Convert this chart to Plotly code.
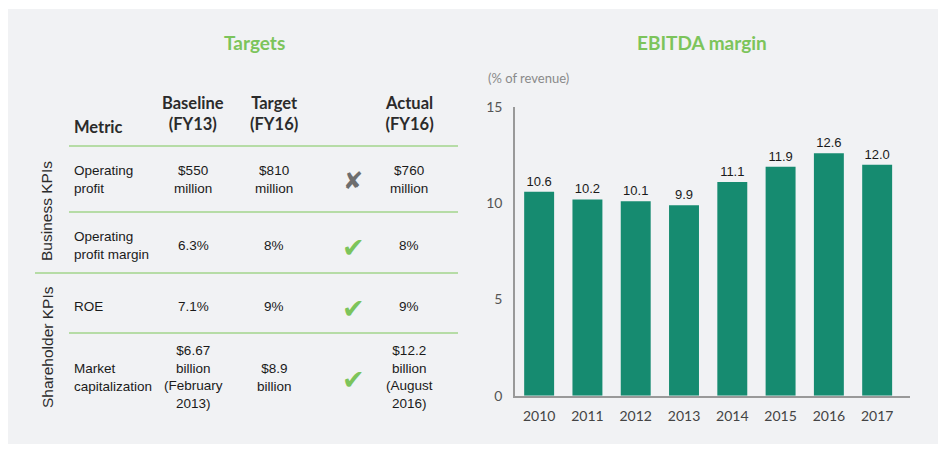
import plotly.graph_objects as go

W, H = 943, 454

# ---- data ----
years = ["2010", "2011", "2012", "2013", "2014", "2015", "2016", "2017"]
ebitda_margin = [10.6, 10.2, 10.1, 9.9, 11.1, 11.9, 12.6, 12.0]
y_ticks = [0, 5, 10, 15]

metrics = ["Operating<br>profit", "Operating<br>profit margin", "ROE", "Market<br>capitalization"]
baseline = ["$550<br>million", "6.3%", "7.1%", "$6.67<br>billion<br>(February<br>2013)"]
target = ["$810<br>million", "8%", "9%", "$8.9<br>billion"]
actual = ["$760<br>million", "8%", "9%", "$12.2<br>billion<br>(August<br>2016)"]
achieved = [False, True, True, True]
groups = ["Business KPIs", "Shareholder KPIs"]
headers = ["Metric", "Baseline<br>(FY13)", "Target<br>(FY16)", "Actual<br>(FY16)"]


def px(x):
    return x / W


def py(y):
    return 1 - y / H


GREEN_TITLE = "#7cc45b"
LINE_GREEN = "#a2d58c"
BAR = "#168b70"
TXT = "#1a1a1a"

fig = go.Figure()
fig.add_trace(go.Bar(
    x=list(range(len(years))), y=ebitda_margin,
    marker=dict(color=BAR, line=dict(width=0)),
    width=0.62,
    text=[f"{v:.1f}" for v in ebitda_margin],
    textposition="outside",
    textfont=dict(family="Liberation Sans, Arial", size=13, color=TXT),
    cliponaxis=False,
    hoverinfo="skip",
))

shapes = [dict(type="rect", xref="paper", yref="paper", x0=px(8), x1=px(938),
               y0=py(444), y1=py(9), fillcolor="#f1f2f4", line=dict(width=0), layer="below")]

ann = []


def A(**kw):
    kw.setdefault("xref", "paper")
    kw.setdefault("yref", "paper")
    kw.setdefault("showarrow", False)
    kw.setdefault("xanchor", "center")
    kw.setdefault("yanchor", "middle")
    ann.append(kw)


# titles
A(x=px(254), y=py(43), text="<b>Targets</b>",
  font=dict(family="Lato", size=19, color=GREEN_TITLE))
A(x=px(702), y=py(43), text="<b>EBITDA margin</b>",
  font=dict(family="Lato", size=19, color=GREEN_TITLE))
A(x=px(486), y=py(78), text="(% of revenue)", xanchor="left",
  font=dict(family="Lato", size=13, color="#8a8a8a"))

# table headers
hfont = dict(family="Lato", size=16.5, color="#2b2b2b")
A(x=px(72), y=py(127), text="<b>" + headers[0] + "</b>", xanchor="left", font=hfont)
col_x = [193, 274, 409]
for cx, h in zip(col_x, headers[1:]):
    A(x=px(cx), y=py(114), text="<b>" + h.replace("<br>", "</b><br><b>") + "</b>", font=hfont)

# rows
row_y = [179, 245, 306, 377]
cfont = dict(family="Liberation Sans, Arial", size=13.5, color=TXT)
for i in range(len(metrics)):
    A(x=px(72), y=py(row_y[i]), text=metrics[i], xanchor="left", align="left", font=cfont)
    for cx, col in zip(col_x, [baseline, target, actual]):
        A(x=px(cx), y=py(row_y[i]), text=col[i], align="center", font=cfont)
    mark = "✔" if achieved[i] else "✘"
    mcol = "#7cc45b" if achieved[i] else "#6e6e6e"
    A(x=px(353), y=py(row_y[i] + 2), text=mark,
      font=dict(family="DejaVu Sans", size=27 if achieved[i] else 24, color=mcol))

# group labels
A(x=px(47), y=py(211), text=groups[0], textangle=-90,
  font=dict(family="Liberation Sans, Arial", size=15.5, color="#2b2b2b"))
A(x=px(47), y=py(347), text=groups[1], textangle=-90,
  font=dict(family="Liberation Sans, Arial", size=15.5, color="#2b2b2b"))

# table lines
for y0, x0 in [(146, 69), (212, 69), (273, 35), (333, 69)]:
    shapes.append(dict(type="line", xref="paper", yref="paper", x0=px(x0), x1=px(458),
                       y0=py(y0), y1=py(y0), line=dict(color=LINE_GREEN, width=1.5)))

fig.update_layout(
    width=W, height=H,
    margin=dict(l=0, r=0, t=0, b=0, autoexpand=False),
    paper_bgcolor="white",
    plot_bgcolor="rgba(0,0,0,0)",
    showlegend=False,
    shapes=shapes,
    annotations=ann,
    xaxis=dict(
        domain=[px(515), px(910)],
        range=[-0.5, 7.68],
        tickmode="array", tickvals=list(range(len(years))), ticktext=years,
        showline=True, linecolor="#999999", linewidth=1.5,
        showgrid=False, zeroline=False, ticks="",
        ticklabelstandoff=7,
        tickfont=dict(family="Lato", size=14, color="#444444"),
        automargin=False,
        fixedrange=True,
    ),
    yaxis=dict(
        domain=[py(395.7), py(107)],
        range=[0, 15],
        tickvals=y_ticks,
        showline=True, linecolor="#999999", linewidth=1.5,
        showgrid=False, zeroline=False, ticks="",
        ticklabelstandoff=8,
        tickfont=dict(family="Lato", size=14, color="#555555"),
        automargin=False,
        fixedrange=True,
    ),
)

fig.write_html("out.html", config={"displayModeBar": False},
               post_script="document.body.style.margin='0';document.body.style.overflow='hidden';")
